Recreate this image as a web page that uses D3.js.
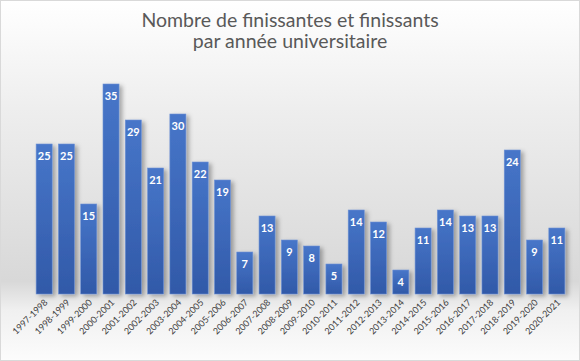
<!DOCTYPE html>
<html>
<head>
<meta charset="utf-8">
<script src="https://cdn.jsdelivr.net/npm/d3@7"></script>
<style>
  body { margin: 0; background: #fff; }
  svg { display: block; }
</style>
</head>
<body>
<div id="chart"></div>
<script>
const years = ["1997-1998","1998-1999","1999-2000","2000-2001","2001-2002","2002-2003","2003-2004","2004-2005","2005-2006","2006-2007","2007-2008","2008-2009","2009-2010","2010-2011","2011-2012","2012-2013","2013-2014","2014-2015","2015-2016","2016-2017","2017-2018","2018-2019","2019-2020","2020-2021"];
const finissants = [25,25,15,35,29,21,30,22,19,7,13,9,8,5,14,12,4,11,14,13,13,24,9,11];
const titleLines = ["Nombre de finissantes et finissants", "par année universitaire"];

const W = 580, H = 361;
const margin = {top: 54, right: 12, bottom: 67, left: 33};

const svg = d3.select("#chart").append("svg")
    .attr("width", W).attr("height", H);

const defs = svg.append("defs");
const bg = defs.append("linearGradient").attr("id", "bg")
    .attr("x1", 0).attr("y1", 0).attr("x2", 0).attr("y2", 1);
[[0, "#ffffff"], [0.3, "#eeeeee"], [0.78, "#d8d8d8"], [0.86, "#f0f0f0"], [1, "#fcfcfc"]]
  .forEach(s => bg.append("stop").attr("offset", s[0]).attr("stop-color", s[1]));

const barGrad = defs.append("linearGradient").attr("id", "barGrad")
    .attr("x1", 0).attr("y1", 0).attr("x2", 0).attr("y2", 1);
barGrad.append("stop").attr("offset", 0).attr("stop-color", "#4776c9");
barGrad.append("stop").attr("offset", 1).attr("stop-color", "#3159a8");

const shadow = defs.append("filter").attr("id", "shadow")
    .attr("x", "-20%").attr("y", "-20%").attr("width", "160%").attr("height", "140%");
shadow.append("feDropShadow").attr("dx", 3).attr("dy", 2)
    .attr("stdDeviation", 2).attr("flood-color", "#000").attr("flood-opacity", 0.3);

svg.append("rect").attr("x", 0.5).attr("y", 0.5)
    .attr("width", W - 1).attr("height", H - 1)
    .attr("fill", "url(#bg)").attr("stroke", "#d9d9d9");

svg.append("g").selectAll("text")
  .data(titleLines)
  .join("text")
    .attr("x", W / 2)
    .attr("y", (d, i) => 27 + i * 21)
    .attr("text-anchor", "middle")
    .attr("font-family", "Lato, 'Open Sans', sans-serif")
    .attr("font-size", 19.5)
    .attr("fill", "#595959")
    .text(d => d);

const x = d3.scaleBand()
    .domain(years)
    .range([margin.left, W - margin.right])
    .paddingInner(0.28)
    .paddingOuter(0.14);

const y = d3.scaleLinear()
    .domain([0, 40])
    .range([H - margin.bottom, margin.top]);

const bars = svg.append("g").attr("filter", "url(#shadow)");
bars.selectAll("rect")
  .data(finissants)
  .join("rect")
    .attr("x", (d, i) => x(years[i]))
    .attr("y", d => y(d))
    .attr("width", x.bandwidth())
    .attr("height", d => y(0) - y(d))
    .attr("fill", "url(#barGrad)")
    .attr("stroke", "#6e92d4")
    .attr("stroke-width", 0.6);

svg.append("g").selectAll("text")
  .data(finissants)
  .join("text")
    .attr("x", (d, i) => x(years[i]) + x.bandwidth() / 2)
    .attr("y", d => y(d) + 16)
    .attr("text-anchor", "middle")
    .attr("font-family", "Lato, 'Open Sans', sans-serif")
    .attr("font-weight", "bold")
    .attr("font-size", 11)
    .attr("fill", "#fff")
    .text(d => d);

const xAxis = svg.append("g")
    .attr("transform", `translate(0,${y(0)})`)
    .call(d3.axisBottom(x).tickSize(0).tickPadding(0));
xAxis.select(".domain").remove();
xAxis.selectAll("text")
    .attr("font-family", "Lato, 'Open Sans', sans-serif")
    .attr("font-size", 9)
    .attr("fill", "#404040")
    .attr("text-anchor", "end")
    .attr("dy", 0)
    .attr("transform", "translate(4,9) rotate(-45)");
</script>
</body>
</html>
